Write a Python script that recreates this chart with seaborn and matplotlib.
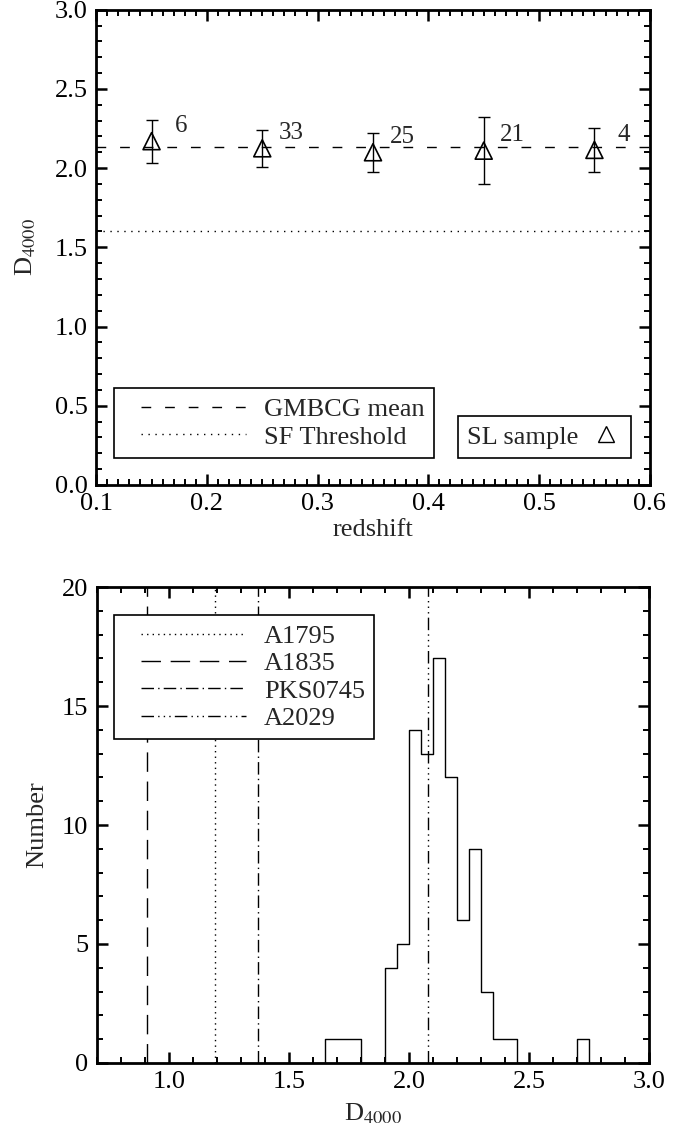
import numpy as np
import pandas as pd
import seaborn as sns
import matplotlib.pyplot as plt
from matplotlib.lines import Line2D
from matplotlib.legend_handler import HandlerLine2D
from matplotlib.ticker import MultipleLocator, FormatStrFormatter

# top panel: mean D4000 of the SL sample per redshift bin
redshift = [0.15, 0.25, 0.35, 0.45, 0.55]
d4000_mean = [2.17, 2.125, 2.10, 2.11, 2.115]
d4000_err = [0.135, 0.115, 0.123, 0.213, 0.14]
n_bcg = [6, 33, 25, 21, 4]
gmbcg_mean = 2.13
sf_threshold = 1.6

# bottom panel: D4000 histogram (bin width 0.05, empty bins at both ends)
bin_left = [1.60, 1.65, 1.70, 1.75, 1.80, 1.85, 1.90, 1.95, 2.00, 2.05, 2.10, 2.15,
            2.20, 2.25, 2.30, 2.35, 2.40, 2.45, 2.50, 2.55, 2.60, 2.65, 2.70, 2.75]
counts = [0, 1, 1, 1, 0, 0, 4, 5, 14, 13, 17, 12,
          6, 9, 3, 1, 1, 0, 0, 0, 0, 0, 1, 0]
bin_width = 0.05

cluster_names = ['A1795', 'A1835', 'PKS0745', 'A2029']
cluster_d4000 = [1.19, 0.91, 1.37, 2.08]
cluster_styles = [(0, (1, 3)), (0, (14, 7)), (0, (9, 3, 1, 3)), (0, (9, 3, 1, 3, 1, 3, 1, 3))]

sns.set_theme(style='ticks')
plt.rcParams['font.family'] = ['Liberation Serif', 'DejaVu Serif']
plt.rcParams['mathtext.fontset'] = 'stix'
FS = 19

fig = plt.figure(figsize=(6.92, 11.37), dpi=100)
ax1 = fig.add_axes([0.139, 0.5735, 0.800, 0.4180])
ax2 = fig.add_axes([0.140, 0.0651, 0.798, 0.4186])


class ShiftedLine(HandlerLine2D):
    # leave some blank room before the legend line sample
    def create_artists(self, legend, orig_handle, xdescent, ydescent, width, height, fontsize, trans):
        shift = 13
        return super().create_artists(legend, orig_handle, xdescent - shift, ydescent,
                                      width - shift, height, fontsize, trans)


def style_axes(ax):
    for sp in ax.spines.values():
        sp.set_linewidth(2.0)
        sp.set_color('black')
    ax.tick_params(which='both', direction='in', top=True, right=True,
                   labelsize=FS, colors='black', pad=6)
    ax.tick_params(which='major', length=8, width=1.8)
    ax.tick_params(which='minor', length=4, width=1.4)
    for lab in ax.get_yticklabels():
        lab.set_verticalalignment('center_baseline')


# ---- top panel
df_top = pd.DataFrame({'z': redshift, 'd4000': d4000_mean, 'err': d4000_err, 'n': n_bcg})

ax1.axhline(gmbcg_mean, color='black', lw=1, ls=(0, (7, 10)))
ax1.axhline(sf_threshold, color='black', lw=1, ls=(0, (1, 4)))
ax1.errorbar(df_top['z'], df_top['d4000'], yerr=df_top['err'], fmt='none',
             ecolor='black', elinewidth=1, capsize=4, capthick=1)
sns.scatterplot(data=df_top, x='z', y='d4000', marker='^', s=150,
                facecolor='none', edgecolor='black', linewidth=1.2, ax=ax1, zorder=3)
for z, d, n in zip(redshift, d4000_mean, n_bcg):
    ax1.annotate(str(n), (z, d), xytext=(21, 11),
                 textcoords='offset points', ha='center', va='center', fontsize=18)

ax1.set_xlim(0.1, 0.6)
ax1.set_ylim(0.0, 3.0)
ax1.xaxis.set_major_locator(MultipleLocator(0.1))
ax1.xaxis.set_minor_locator(MultipleLocator(0.01))
ax1.yaxis.set_major_locator(MultipleLocator(0.5))
ax1.yaxis.set_minor_locator(MultipleLocator(0.1))
ax1.xaxis.set_major_formatter(FormatStrFormatter('%.1f'))
ax1.yaxis.set_major_formatter(FormatStrFormatter('%.1f'))
ax1.set_xlabel('redshift', fontsize=FS, labelpad=3)
ax1.set_ylabel(r'D$_{4000}$', fontsize=FS, labelpad=12)
style_axes(ax1)

leg_kw = dict(fontsize=FS, frameon=True, fancybox=False, edgecolor='black',
              framealpha=1, borderaxespad=0, labelspacing=0.15, borderpad=0.35)
h1 = [Line2D([], [], color='black', lw=1, ls=(0, (7, 10))),
      Line2D([], [], color='black', lw=1, ls=(0, (1, 4)))]
leg1 = ax1.legend(h1, ['GMBCG mean', 'SF Threshold'], loc='lower left',
                  bbox_to_anchor=(0.032, 0.057), handlelength=4.65, handletextpad=0.68,
                  handler_map={Line2D: ShiftedLine()}, **leg_kw)
leg1.get_frame().set_linewidth(1.2)
ax1.add_artist(leg1)
h2 = [Line2D([], [], color='black', lw=0, marker='^', markersize=11,
             markerfacecolor='none', markeredgewidth=1)]
leg2 = ax1.legend(h2, ['SL sample'], loc='lower right', markerfirst=False,
                  bbox_to_anchor=(0.966, 0.057), handlelength=1.2, handletextpad=0.45, **leg_kw)
leg2.get_frame().set_linewidth(1.2)

# ---- bottom panel
df_hist = pd.DataFrame({'center': np.array(bin_left) + bin_width / 2, 'count': counts})
edges = list(bin_left) + [bin_left[-1] + bin_width]
sns.histplot(data=df_hist, x='center', weights='count', bins=edges, element='step',
             fill=False, color='black', linewidth=1, ax=ax2)

for name, d, ls in zip(cluster_names, cluster_d4000, cluster_styles):
    ax2.axvline(d, color='black', lw=1, ls=ls, label=name)

ax2.set_xlim(0.7, 3.0)
ax2.set_ylim(0, 20)
ax2.xaxis.set_major_locator(MultipleLocator(0.5))
ax2.xaxis.set_minor_locator(MultipleLocator(0.1))
ax2.yaxis.set_major_locator(MultipleLocator(5))
ax2.yaxis.set_minor_locator(MultipleLocator(1))
ax2.xaxis.set_major_formatter(FormatStrFormatter('%.1f'))
ax2.set_xlabel(r'D$_{4000}$', fontsize=FS, labelpad=6)
ax2.set_ylabel('Number', fontsize=FS, labelpad=10)
style_axes(ax2)

leg3 = ax2.legend(loc='upper left', bbox_to_anchor=(0.031, 0.941),
                  handlelength=4.65, handletextpad=0.68,
                  handler_map={Line2D: ShiftedLine()}, **leg_kw)
leg3.get_frame().set_linewidth(1.2)

fig.savefig('out.png', dpi=100, facecolor='white')
